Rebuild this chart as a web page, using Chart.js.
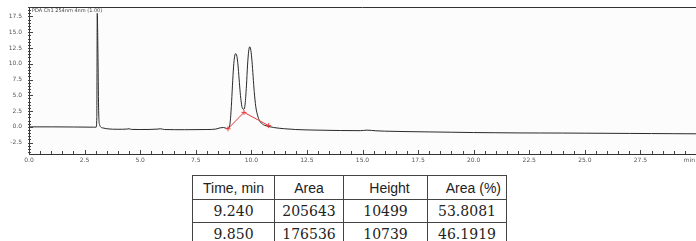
<!DOCTYPE html>
<html>
<head>
<meta charset="utf-8">
<script src="https://cdn.jsdelivr.net/npm/chart.js@4/dist/chart.umd.min.js"></script>
<style>
html,body{margin:0;padding:0;background:#fff;width:696px;height:241px;overflow:hidden;}
#wrap{position:absolute;left:0;top:0;width:696px;height:170px;}
table{position:absolute;left:192px;top:175px;border-collapse:collapse;}
td,th{border:1px solid #444;padding:0;text-align:center;color:#222;}
th{font-family:"Liberation Sans",Arial,sans-serif;font-weight:normal;font-size:14px;height:23px;}
td{font-family:"DejaVu Serif",serif;font-size:14px;height:22px;}
</style>
</head>
<body>
<div id="wrap"><canvas id="c"></canvas></div>
<table id="tbl"></table>
<script>
// Chromatogram trace (time in min, signal in mV)
const times  = [0, 1, 2, 2.9, 3.02, 3.05, 3.07, 3.1, 3.13, 3.17, 3.3, 3.5, 4, 4.4, 4.5, 4.6, 5, 5.8, 5.9, 6.1, 7, 8, 8.4, 8.6, 8.75, 8.9, 9.0, 9.05, 9.1, 9.15, 9.2, 9.25, 9.3, 9.35, 9.4, 9.45, 9.5, 9.55, 9.6, 9.67, 9.72, 9.78, 9.83, 9.88, 9.93, 9.98, 10.03, 10.08, 10.13, 10.2, 10.3, 10.4, 10.5, 10.6, 10.8, 11, 11.5, 12, 13, 14, 14.9, 15.2, 15.6, 16, 17, 18, 19, 20, 21, 22, 23, 24, 25, 26, 27, 28, 29, 30];
const signal = [0, 0, -0.02, -0.05, -0.05, 1.5, 18.0, 12.0, 3.0, 0.4, -0.15, -0.3, -0.38, -0.35, -0.3, -0.4, -0.42, -0.35, -0.3, -0.42, -0.45, -0.42, -0.35, -0.15, -0.1, -0.25, -0.15, 0.8, 3.2, 6.5, 9.5, 11.2, 11.6, 11.2, 9.8, 7.6, 5.4, 3.8, 2.9, 2.8, 3.6, 6.5, 9.8, 12.0, 12.7, 12.1, 10.4, 8.0, 5.6, 3.2, 1.6, 0.8, 0.45, 0.25, 0.05, -0.1, -0.3, -0.42, -0.52, -0.58, -0.6, -0.52, -0.62, -0.68, -0.75, -0.8, -0.85, -0.9, -0.93, -0.96, -0.97, -0.98, -1.0, -1.02, -1.04, -1.06, -1.08, -1.1];
// Integration baseline (red)
const integX = [8.95, 9.67, 10.78];
const integY = [-0.3, 2.3, 0.2];
// Axes
const xTickValues = [0, 2.5, 5, 7.5, 10, 12.5, 15, 17.5, 20, 22.5, 25, 27.5];
const yTickValues = [-2.5, 0, 2.5, 5, 7.5, 10, 12.5, 15, 17.5];
const channelLabel = "PDA Ch1 254nm 4nm (1.00)";
const xUnit = "min";
// Peak table
const tableHeaders = ["Time, min", "Area", "Height", "Area (%)"];
const tableTimes = ["9.240", "9.850"];
const tableAreas = ["205643", "176536"];
const tableHeights = ["10499", "10739"];
const tableAreaPct = ["53.8081", "46.1919"];

// build table
(function(){
  const t = document.getElementById('tbl');
  const widths = [82, 69, 84, 79];
  let h = '<tr>';
  tableHeaders.forEach((s,i)=>{
    let st = 'width:'+(widths[i]-1)+'px;';
    if(i===2) st += 'padding-left:8px;width:'+(widths[i]-9)+'px;';
    if(i===3) st += 'text-align:right;padding-right:5px;width:'+(widths[i]-6)+'px;';
    h += '<th style="'+st+'">'+s+'</th>';
  });
  h += '</tr>';
  for(let r=0;r<tableTimes.length;r++){
    h += '<tr><td>'+tableTimes[r]+'</td><td>'+tableAreas[r]+'</td><td>'+tableHeights[r]+'</td><td>'+tableAreaPct[r]+'</td></tr>';
  }
  t.innerHTML = h;
})();

const trace = times.map((x,i)=>({x:x,y:signal[i]}));
const integ = integX.map((x,i)=>({x:x,y:integY[i]}));

const axesPlugin = {
  id:'axesPlugin',
  beforeDatasetsDraw(chart){
    const {ctx, chartArea:a} = chart;
    ctx.save();
    ctx.fillStyle = '#fcfcfc';
    ctx.fillRect(a.left, a.top, a.right-a.left, a.bottom-a.top);
    ctx.restore();
  },
  afterDraw(chart){
    const {ctx, chartArea:a, scales:{x,y}} = chart;
    ctx.save();
    ctx.strokeStyle = '#333';
    ctx.lineWidth = 1;
    ctx.beginPath();
    ctx.moveTo(a.left, a.top+0.5); ctx.lineTo(a.right, a.top+0.5);
    ctx.moveTo(a.left+0.5, a.top); ctx.lineTo(a.left+0.5, a.bottom);
    ctx.moveTo(a.left, a.bottom+0.5); ctx.lineTo(a.right, a.bottom+0.5);
    ctx.stroke();
    ctx.strokeStyle = '#444';
    ctx.beginPath();
    for(let k=0;k<=60;k++){
      const v = k*0.5;
      const px = Math.round(x.getPixelForValue(v))+0.5;
      const len = (k%5===0)?4:3;
      ctx.moveTo(px, a.bottom); ctx.lineTo(px, a.bottom-len);
    }
    for(let k=-8;k<=38;k++){
      const v = k*0.5;
      const py = Math.round(y.getPixelForValue(v))+0.5;
      if(py<a.top||py>a.bottom) continue;
      const len = (k%5===0)?4:2;
      ctx.moveTo(a.left-1, py); ctx.lineTo(a.left+len, py);
    }
    ctx.stroke();
    ctx.fillStyle = '#555';
    ctx.font = '6px "DejaVu Sans", sans-serif';
    ctx.textAlign = 'right';
    ctx.textBaseline = 'top';
    ctx.fillText(xUnit, a.right-1, a.bottom+3);
    ctx.textAlign = 'left';
    ctx.fillStyle = '#444';
    ctx.font = '5px "DejaVu Sans", sans-serif';
    ctx.fillText(channelLabel, a.left+3, a.top+1);
    ctx.restore();
  }
};

new Chart(document.getElementById('c'), {
  type:'line',
  data:{
    datasets:[
      {data:trace, borderColor:'#2a2a2a', borderWidth:1, pointRadius:0, cubicInterpolationMode:'monotone', fill:false, order:2},
      {data:integ, borderColor:'#e8393a', borderWidth:1, pointRadius:2.5, pointStyle:'cross', pointBorderColor:'#e8393a', pointBorderWidth:1, tension:0, fill:false, order:1}
    ]
  },
  options:{
    responsive:true, maintainAspectRatio:false, animation:false,
    layout:{autoPadding:false, padding:{top:7,left:0,right:0,bottom:0}},
    plugins:{legend:{display:false}, tooltip:{enabled:false}},
    scales:{
      x:{type:'linear', min:0, max:30,
        grid:{display:false, drawTicks:false}, border:{display:false},
        afterBuildTicks(s){ s.ticks = xTickValues.map(v=>({value:v})); },
        ticks:{font:{size:6, family:'"DejaVu Sans", sans-serif'}, color:'#555', maxRotation:0, autoSkip:false, padding:3,
          callback:(v)=>Number(v).toFixed(1)},
        afterFit(s){ s.height=16; s.paddingLeft=0; s.paddingRight=0; }
      },
      y:{type:'linear', min:-4.3, max:19,
        grid:{display:false, drawTicks:false}, border:{display:false},
        afterBuildTicks(s){ s.ticks = yTickValues.map(v=>({value:v})); },
        ticks:{font:{size:6, family:'"DejaVu Sans", sans-serif'}, color:'#555', padding:7,
          callback:(v)=>Number(v).toFixed(1)},
        afterFit(s){ s.width=29; s.paddingTop=0; s.paddingBottom=0; }
      }
    }
  },
  plugins:[axesPlugin]
});
</script>
</body>
</html>
